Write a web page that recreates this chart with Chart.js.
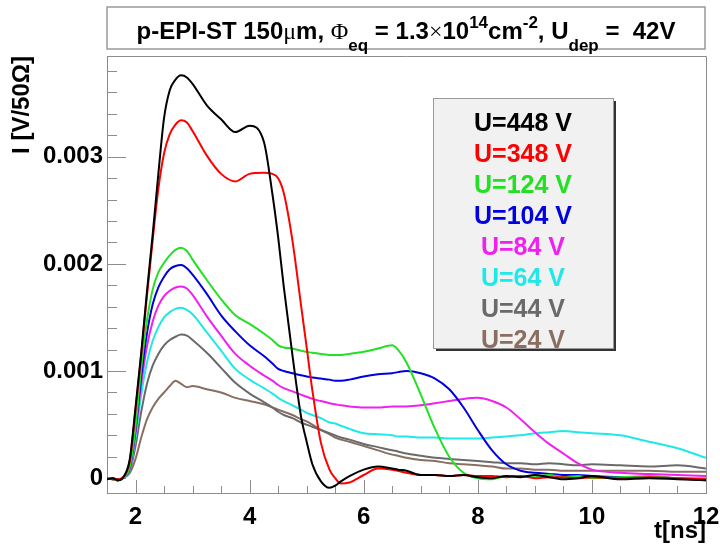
<!DOCTYPE html>
<html>
<head>
<meta charset="utf-8">
<script src="https://cdn.jsdelivr.net/npm/chart.js@4.4.0/dist/chart.umd.min.js"></script>
<style>
  html, body { margin: 0; padding: 0; background: #fff; }
</style>
</head>
<body>
<canvas id="pulseChart" width="720" height="548"></canvas>
<script>
// time axis [ns], shared by every trace
const times = [
  1.5, 1.6, 1.7, 1.8, 1.9, 2.0, 2.1, 2.2, 2.3, 2.4,
  2.5, 2.6, 2.7, 2.8, 2.9, 3.0, 3.25, 3.5, 3.75, 4.0,
  4.25, 4.4, 4.5, 4.6, 4.75, 4.9, 5.0, 5.1, 5.25, 5.4,
  5.5, 5.6, 5.75, 6.0, 6.25, 6.5, 6.6, 6.75, 7.0, 7.25,
  7.5, 7.75, 8.0, 8.25, 8.5, 8.75, 9.0, 9.25, 9.5, 9.75,
  10.0, 10.5, 11.0, 11.5, 12.0
];

// current traces, in units of 1e-3 V/50 Ohm
const u448 = [
  -0.01, 0.00, -0.02, 0.02, 0.18, 0.66, 1.17, 1.74, 2.27, 2.84,
  3.36, 3.62, 3.72, 3.76, 3.74, 3.68, 3.48, 3.35, 3.23, 3.29,
  3.14, 2.65, 2.25, 1.78, 1.15, 0.58, 0.34, 0.13, -0.03, -0.09,
  -0.07, -0.03, 0.02, 0.08, 0.11, 0.09, 0.08, 0.07, 0.03, 0.03,
  0.02, 0.03, 0.01, 0.00, 0.02, 0.01, 0.03, 0.01, -0.01, 0.00,
  0.02, -0.01, 0.00, -0.01, -0.02
];
const u348 = [
  0.00, -0.01, -0.01, 0.02, 0.16, 0.64, 1.15, 1.70, 2.22, 2.70,
  3.03, 3.21, 3.30, 3.34, 3.32, 3.24, 3.01, 2.84, 2.77, 2.84,
  2.85, 2.84, 2.80, 2.66, 2.22, 1.62, 1.22, 0.82, 0.33, 0.08,
  0.00, -0.05, -0.04, 0.03, 0.09, 0.08, 0.07, 0.05, 0.03, 0.03,
  0.02, 0.03, 0.02, 0.02, 0.01, 0.02, 0.00, 0.01, 0.01, 0.00,
  0.01, 0.00, 0.01, 0.00, -0.01
];
const u124 = [
  0.00, -0.01, -0.02, 0.01, 0.11, 0.48, 1.03, 1.47, 1.76, 1.92,
  2.01, 2.08, 2.13, 2.15, 2.12, 2.04, 1.85, 1.67, 1.52, 1.44,
  1.35, 1.29, 1.24, 1.22, 1.21, 1.19, 1.18, 1.17, 1.16, 1.15,
  1.15, 1.15, 1.16, 1.18, 1.21, 1.24, 1.20, 1.08, 0.78, 0.46,
  0.20, 0.05, 0.00, -0.01, 0.02, 0.02, 0.01, 0.03, 0.01, 0.02,
  0.00, 0.01, 0.02, 0.00, 0.00
];
const u104 = [
  -0.01, 0.00, -0.02, 0.01, 0.10, 0.45, 0.95, 1.35, 1.62, 1.78,
  1.88, 1.95, 1.98, 1.99, 1.96, 1.90, 1.72, 1.52, 1.37, 1.24,
  1.14, 1.07, 1.02, 1.00, 0.98, 0.96, 0.95, 0.94, 0.93, 0.92,
  0.91, 0.91, 0.92, 0.95, 0.97, 0.98, 0.99, 1.00, 0.98, 0.93,
  0.83, 0.66, 0.45, 0.26, 0.13, 0.07, 0.05, 0.04, 0.03, 0.03,
  0.02, 0.01, 0.01, 0.00, -0.02
];
const u84 = [
  0.00, -0.01, -0.02, 0.01, 0.09, 0.42, 0.88, 1.23, 1.46, 1.61,
  1.70, 1.75, 1.78, 1.79, 1.77, 1.71, 1.51, 1.33, 1.16, 1.05,
  0.96, 0.91, 0.87, 0.84, 0.81, 0.78, 0.76, 0.74, 0.72, 0.70,
  0.69, 0.68, 0.67, 0.66, 0.66, 0.67, 0.67, 0.67, 0.68, 0.70,
  0.72, 0.74, 0.75, 0.72, 0.66, 0.55, 0.43, 0.32, 0.23, 0.14,
  0.08, 0.05, 0.04, 0.03, 0.02
];
const u64 = [
  -0.01, 0.00, -0.02, 0.01, 0.08, 0.38, 0.78, 1.08, 1.28, 1.41,
  1.50, 1.55, 1.58, 1.59, 1.57, 1.53, 1.36, 1.19, 1.02, 0.92,
  0.84, 0.79, 0.75, 0.72, 0.68, 0.64, 0.61, 0.59, 0.56, 0.52,
  0.51, 0.49, 0.46, 0.42, 0.41, 0.40, 0.39, 0.39, 0.38, 0.38,
  0.37, 0.37, 0.37, 0.38, 0.39, 0.40, 0.42, 0.43, 0.44, 0.43,
  0.42, 0.40, 0.34, 0.28, 0.19
];
const u44 = [
  0.00, -0.01, -0.01, 0.01, 0.07, 0.30, 0.62, 0.88, 1.05, 1.16,
  1.24, 1.29, 1.32, 1.34, 1.33, 1.29, 1.17, 1.03, 0.89, 0.79,
  0.71, 0.66, 0.62, 0.59, 0.56, 0.52, 0.50, 0.48, 0.45, 0.42,
  0.40, 0.38, 0.36, 0.32, 0.29, 0.26, 0.25, 0.23, 0.21, 0.19,
  0.18, 0.17, 0.16, 0.15, 0.14, 0.14, 0.13, 0.14, 0.13, 0.12,
  0.13, 0.12, 0.11, 0.12, 0.09
];
const u24 = [
  0.00, -0.01, -0.01, 0.01, 0.05, 0.18, 0.38, 0.55, 0.66, 0.74,
  0.80, 0.86, 0.91, 0.88, 0.85, 0.86, 0.83, 0.80, 0.75, 0.72,
  0.69, 0.66, 0.64, 0.62, 0.59, 0.55, 0.53, 0.50, 0.45, 0.41,
  0.38, 0.36, 0.34, 0.30, 0.26, 0.22, 0.21, 0.19, 0.17, 0.16,
  0.14, 0.13, 0.12, 0.11, 0.09, 0.09, 0.08, 0.08, 0.07, 0.07,
  0.07, 0.07, 0.07, 0.06, 0.06
];

const seriesLabels = ['U=448 V', 'U=348 V', 'U=124 V', 'U=104 V', 'U=84 V', 'U=64 V', 'U=44 V', 'U=24 V'];
const seriesColors = ['#000000', '#ff0000', '#22e022', '#0000e0', '#f020f0', '#20e8e8', '#6a6a6a', '#8a6e62'];
const seriesValues = [u448, u348, u124, u104, u84, u64, u44, u24];

const xTicks = [2, 4, 6, 8, 10, 12];
const yTicks = [0, 0.001, 0.002, 0.003];

const FONT = '"Liberation Sans", Arial, sans-serif';
const SERIF = '"Liberation Serif", "Times New Roman", serif';
const AXIS_GREY = '#8c8c8c';

// ROOT style inner tick marks plus the top/right frame
const frameTicks = {
  id: 'frameTicks',
  beforeDatasetsDraw(chart) {
    const { ctx, chartArea: a, scales: { x, y } } = chart;
    ctx.save();
    ctx.strokeStyle = AXIS_GREY;
    ctx.lineWidth = 1;
    ctx.beginPath();
    for (let t = 1.5; t <= 12.001; t += 0.5) {
      const px = Math.round(x.getPixelForValue(t)) + 0.5;
      const len = (t % 2 === 0) ? 13 : 7;
      ctx.moveTo(px, a.bottom);
      ctx.lineTo(px, a.bottom - len);
    }
    for (let k = 0; k <= 19; k++) {
      const v = k * 0.0002;
      const py = Math.round(y.getPixelForValue(v)) + 0.5;
      const len = (k % 5 === 0) ? 19 : 10;
      ctx.moveTo(a.left, py);
      ctx.lineTo(a.left + len, py);
    }
    ctx.moveTo(a.left, a.top + 0.5);
    ctx.lineTo(a.right + 0.5, a.top + 0.5);
    ctx.lineTo(a.right + 0.5, a.bottom);
    ctx.stroke();
    ctx.restore();
  }
};

// legend box with coloured text only
const textLegend = {
  id: 'textLegend',
  afterDatasetsDraw(chart) {
    const { ctx } = chart;
    const bx = 433, by = 98, bw = 180, bh = 250;
    ctx.save();
    ctx.fillStyle = '#333';
    ctx.fillRect(bx + 3, by + 3, bw, bh);
    ctx.fillStyle = '#f1f1f1';
    ctx.fillRect(bx, by, bw, bh);
    ctx.strokeStyle = '#9a9a9a';
    ctx.lineWidth = 1;
    ctx.strokeRect(bx + 0.5, by + 0.5, bw, bh);
    ctx.beginPath();
    ctx.rect(bx + 1, by + 1, bw - 1, bh - 1);
    ctx.clip();
    ctx.font = 'bold 25px ' + FONT;
    ctx.textAlign = 'center';
    ctx.textBaseline = 'alphabetic';
    chart.data.datasets.forEach((ds, i) => {
      ctx.fillStyle = ds.borderColor;
      ctx.fillText(ds.label, bx + bw / 2, 131 + i * 31);
    });
    ctx.restore();
  }
};

// boxed title with sub- and superscripts
const boxedTitle = {
  id: 'boxedTitle',
  afterDraw(chart) {
    const { ctx } = chart;
    const big = 'bold 24px ' + FONT;
    const small = 'bold 17px ' + FONT;
    const sym = '24px ' + SERIF;
    const parts = [
      { s: 'p-EPI-ST 150', f: big, dy: 0 },
      { s: 'μ', f: sym, dy: 0 },
      { s: 'm, ', f: big, dy: 0 },
      { s: 'Φ', f: sym, dy: 0 },
      { s: 'eq', f: small, dy: 12 },
      { s: ' = 1.3', f: big, dy: 0 },
      { s: '×', f: sym, dy: 0 },
      { s: '10', f: big, dy: 0 },
      { s: '14', f: small, dy: -11 },
      { s: 'cm', f: big, dy: 0 },
      { s: '-2', f: small, dy: -11 },
      { s: ', U', f: big, dy: 0 },
      { s: 'dep', f: small, dy: 12 },
      { s: ' =  42V', f: big, dy: 0 }
    ];
    ctx.save();
    ctx.fillStyle = '#fff';
    ctx.fillRect(107, 7, 598, 42);
    ctx.strokeStyle = '#9a9a9a';
    ctx.lineWidth = 1.5;
    ctx.strokeRect(107, 7, 598, 42);
    let total = 0;
    parts.forEach(p => { ctx.font = p.f; p.w = ctx.measureText(p.s).width; total += p.w; });
    let cx = 406 - total / 2;
    ctx.fillStyle = '#000';
    ctx.textBaseline = 'alphabetic';
    ctx.textAlign = 'left';
    parts.forEach(p => {
      ctx.font = p.f;
      ctx.fillText(p.s, cx, 39 + p.dy);
      cx += p.w;
    });
    ctx.restore();
  }
};

const datasets = seriesValues.map((vals, i) => ({
  label: seriesLabels[i],
  data: times.map((t, k) => ({ x: t, y: vals[k] * 1e-3 })),
  borderColor: seriesColors[i],
  borderWidth: 2,
  pointRadius: 0,
  cubicInterpolationMode: 'monotone',
  fill: false
}));

const ctx = document.getElementById('pulseChart').getContext('2d');
new Chart(ctx, {
  type: 'line',
  data: { datasets },
  options: {
    responsive: false,
    animation: false,
    devicePixelRatio: 1,
    layout: { padding: { top: 56, right: 0, left: 0, bottom: 0 } },
    plugins: {
      legend: { display: false },
      title: { display: false },
      tooltip: { enabled: false }
    },
    scales: {
      x: {
        type: 'linear',
        min: 1.5,
        max: 12,
        afterFit(s) { s.height = 55; s.paddingLeft = 0; s.paddingRight = 14; },
        afterBuildTicks(s) { s.ticks = xTicks.map(v => ({ value: v })); },
        grid: { display: false, drawTicks: false },
        border: { display: true, color: AXIS_GREY },
        ticks: { padding: 10, maxRotation: 0, autoSkip: false, color: '#000', font: { family: FONT, size: 24, weight: 'bold' } },
        title: { display: true, text: 't[ns]', align: 'end', color: '#000', font: { family: FONT, size: 24, weight: 'bold' }, padding: { top: 0, bottom: 2 } }
      },
      y: {
        min: -0.000138,
        max: 0.00394,
        afterFit(s) { s.width = 107; },
        afterBuildTicks(s) { s.ticks = yTicks.map(v => ({ value: v })); },
        grid: { display: false, drawTicks: false },
        border: { display: true, color: AXIS_GREY },
        ticks: {
          padding: 4,
          color: '#000',
          font: { family: FONT, size: 24, weight: 'bold' },
          callback: v => v === 0 ? '0' : v.toFixed(3)
        },
        title: { display: true, text: 'I [V/50Ω]', align: 'end', color: '#000', font: { family: FONT, size: 24, weight: 'bold' }, padding: { top: 8, bottom: 0 } }
      }
    }
  },
  plugins: [frameTicks, textLegend, boxedTitle]
});
</script>
</body>
</html>
